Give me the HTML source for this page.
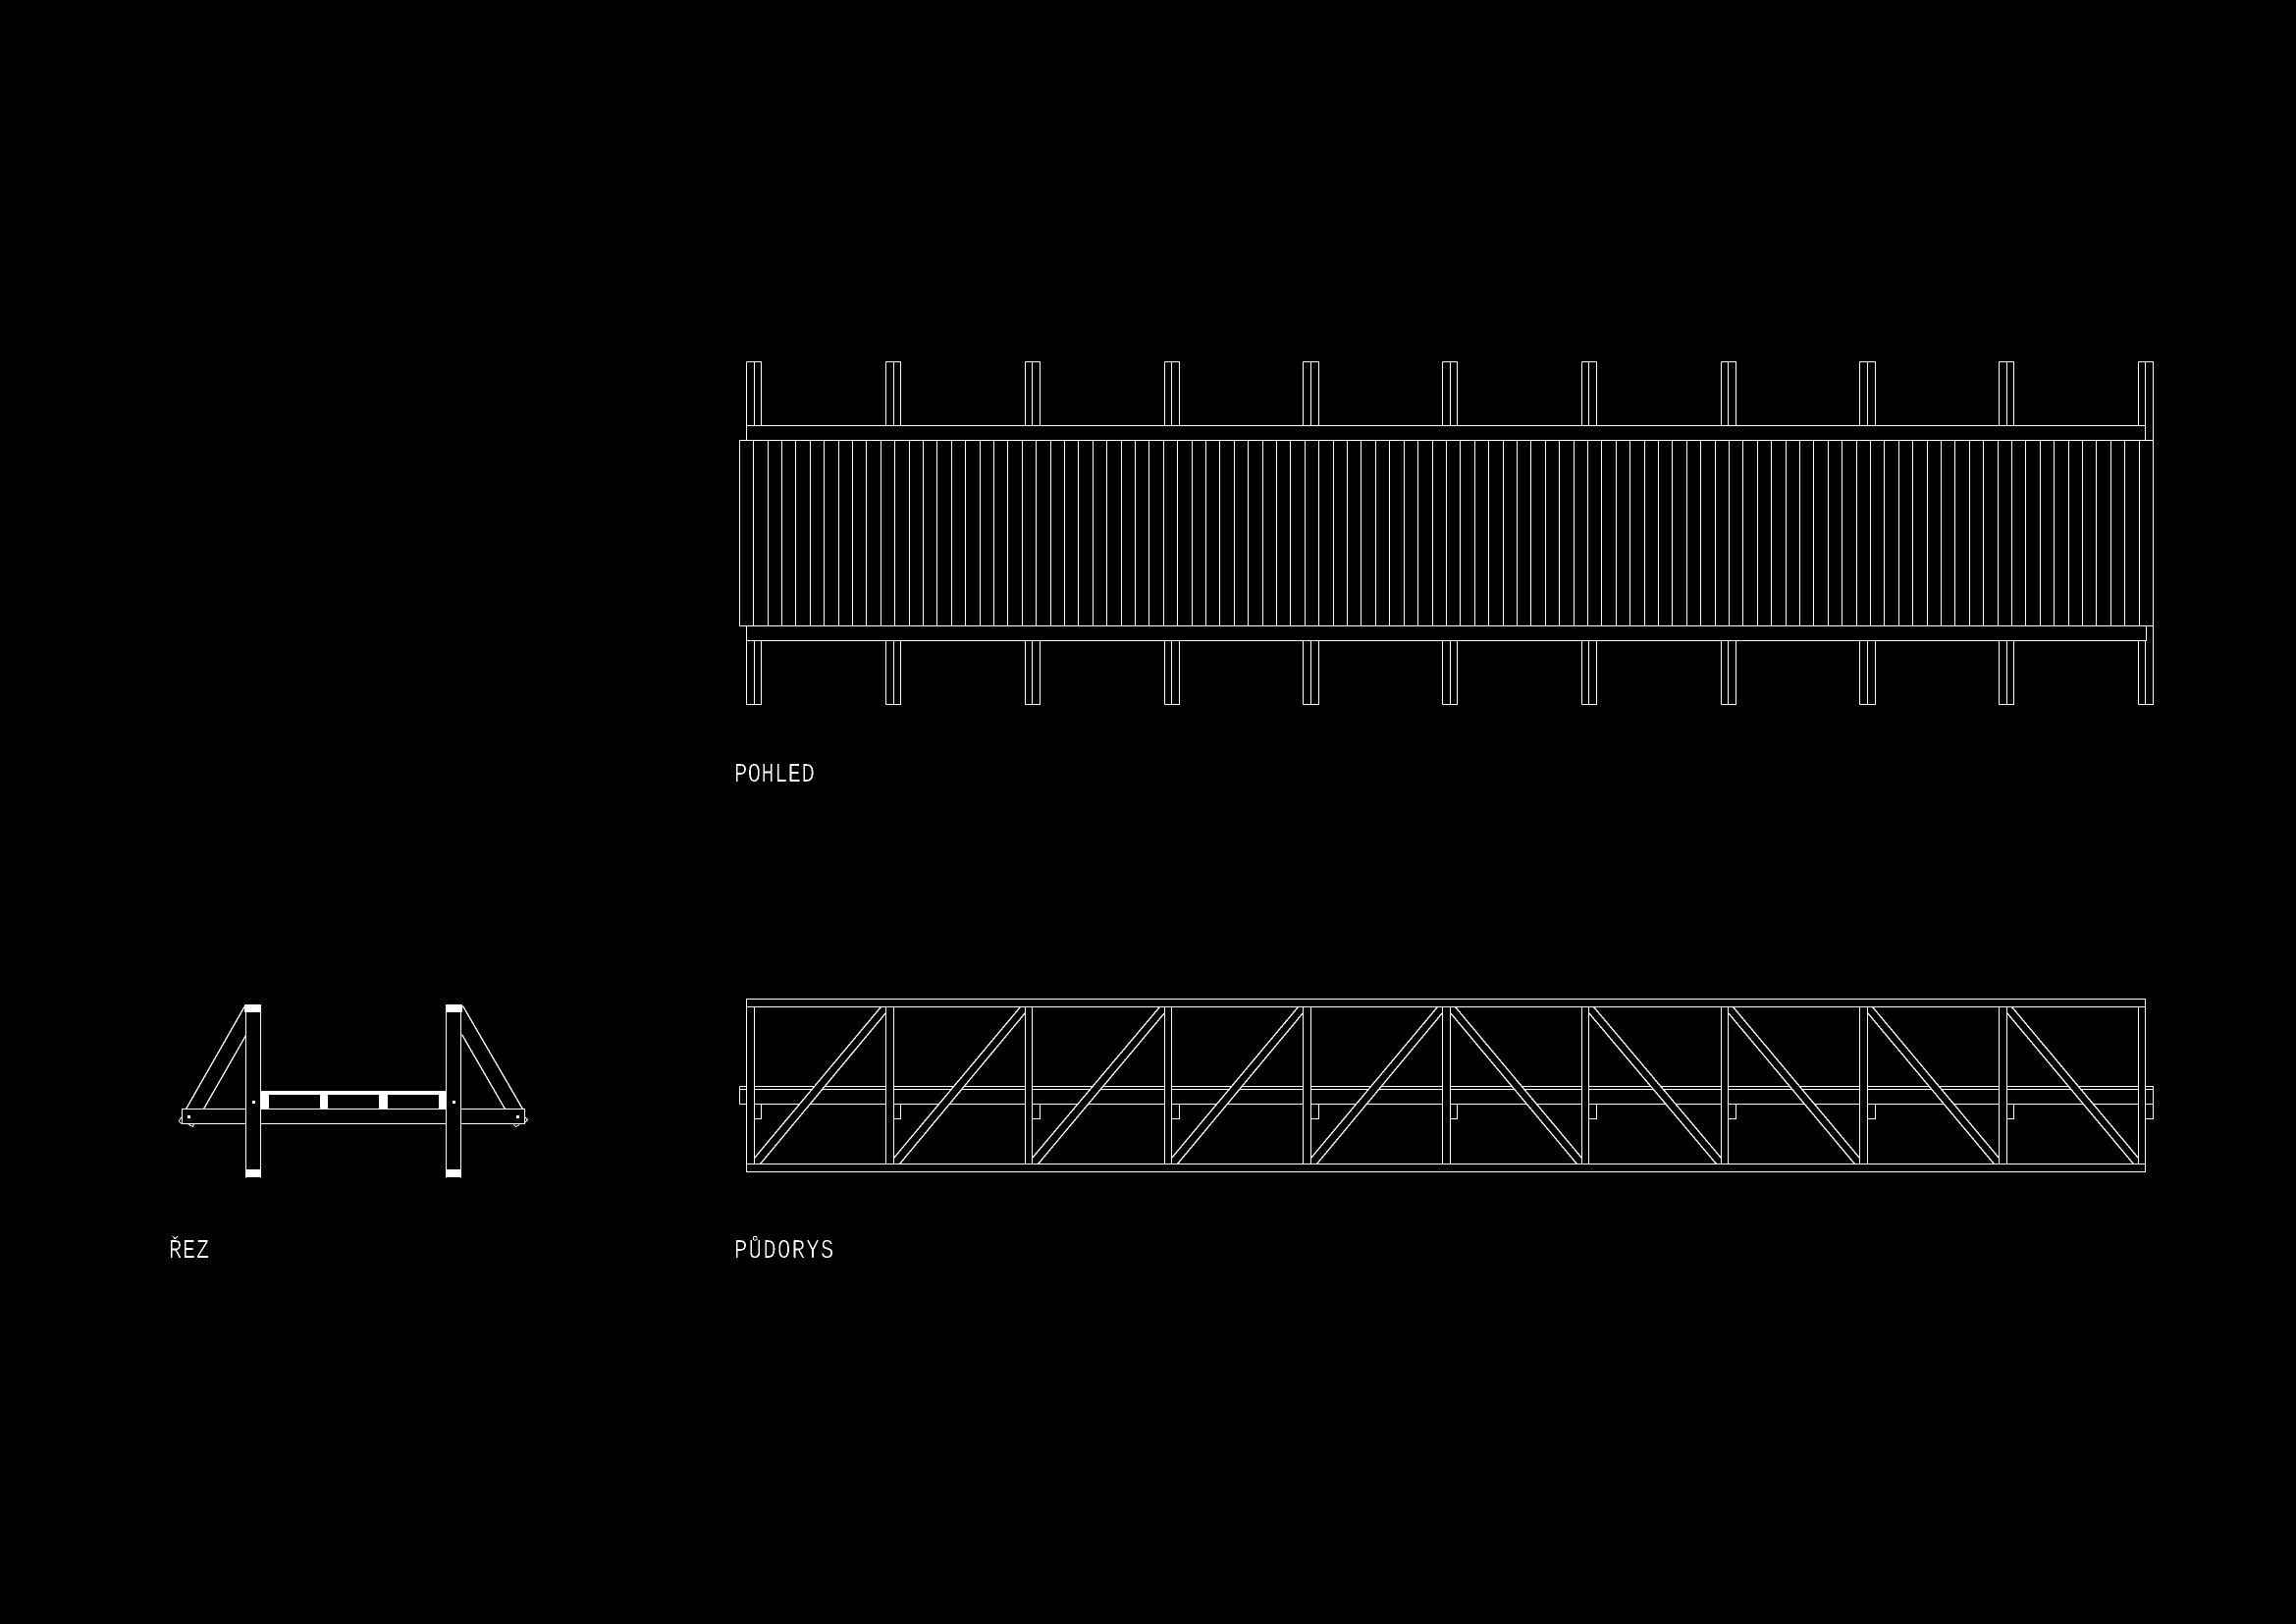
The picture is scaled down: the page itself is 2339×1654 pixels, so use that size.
<!DOCTYPE html>
<html><head><meta charset="utf-8"><title>Drawing</title>
<style>
html,body{margin:0;padding:0;background:#000;width:2339px;height:1654px;overflow:hidden}
svg{display:block;position:absolute;left:0;top:0}
text{font-family:"Liberation Mono",monospace;font-size:27px;fill:#fff;stroke:#000;stroke-width:.3px;paint-order:fill stroke}
</style></head><body>
<svg width="2339" height="1654" viewBox="0 0 2339 1654" xmlns="http://www.w3.org/2000/svg">
<defs>
<filter id="th" x="-20%" y="-40%" width="140%" height="180%" color-interpolation-filters="sRGB">
<feComponentTransfer><feFuncR type="discrete" tableValues="0 0 1"/><feFuncG type="discrete" tableValues="0 0 1"/><feFuncB type="discrete" tableValues="0 0 1"/><feFuncA type="discrete" tableValues="0 1"/></feComponentTransfer>
</filter>
</defs>
<rect width="2339" height="1654" fill="#000"/>
<g shape-rendering="crispEdges">
<!-- REZ filled parts -->
<g transform="translate(.5,.5)" fill="none" stroke="#fff" stroke-width="1">
<path d="M185 1129H534V1144H185Z"/>
<path stroke-width="1.35" d="M249 1024L189 1129M250 1054L207 1129M471 1024L532 1129M470 1053L514 1129"/>
<path d="M185 1137L183 1139L182 1141L183 1143L185 1144M191 1144L194 1146L196 1147L197 1144M534 1137L537 1140L534 1143M523 1145L525 1147L529 1145"/>
</g>
<path d="M265 1111H454V1129H265Z" fill="#fff"/>
<rect x="274" y="1115" width="52" height="14" fill="#000"/>
<rect x="334" y="1115" width="52" height="14" fill="#000"/>
<rect x="395" y="1115" width="52" height="14" fill="#000"/>
<rect x="250" y="1023" width="16" height="176" fill="#000"/>
<rect x="454" y="1023" width="16" height="176" fill="#000"/>
<g transform="translate(.5,.5)" fill="none" stroke="#fff" stroke-width="1">
<path d="M250 1023V1199M265 1023V1199M454 1023V1199M469 1023V1199"/>
</g>
<rect x="249" y="1023" width="17" height="8" fill="#fff"/>
<rect x="250" y="1191" width="16" height="8" fill="#fff"/>
<rect x="454" y="1023" width="17" height="8" fill="#fff"/>
<rect x="454" y="1191" width="16" height="8" fill="#fff"/>
<rect x="257" y="1121" width="3" height="3" fill="#fff"/>
<rect x="461" y="1121" width="3" height="3" fill="#fff"/>
<rect x="191" y="1136" width="3" height="3" fill="#fff"/>
<rect x="526" y="1136" width="3" height="3" fill="#fff"/>

<g transform="translate(.5,.5)" fill="none" stroke="#fff" stroke-width="1">
<!-- POHLED -->
<path d="M753 448H2193V637H753ZM760 433V448M760 637V652M760 433H2185V448M760 652H2186V637"/>
<path d="M767 448V637M782 448V637M796 448V637M810 448V637M825 448V637M839 448V637M854 448V637M868 448V637M882 448V637M897 448V637M911 448V637M926 448V637M940 448V637M954 448V637M969 448V637M983 448V637M998 448V637M1012 448V637M1026 448V637M1041 448V637M1055 448V637M1070 448V637M1084 448V637M1098 448V637M1113 448V637M1127 448V637M1142 448V637M1156 448V637M1170 448V637M1185 448V637M1199 448V637M1214 448V637M1228 448V637M1242 448V637M1257 448V637M1271 448V637M1286 448V637M1300 448V637M1314 448V637M1329 448V637M1343 448V637M1358 448V637M1372 448V637M1386 448V637M1401 448V637M1415 448V637M1430 448V637M1444 448V637M1459 448V637M1473 448V637M1487 448V637M1502 448V637M1516 448V637M1531 448V637M1545 448V637M1559 448V637M1574 448V637M1588 448V637M1603 448V637M1617 448V637M1631 448V637M1646 448V637M1660 448V637M1675 448V637M1689 448V637M1703 448V637M1718 448V637M1732 448V637M1747 448V637M1761 448V637M1775 448V637M1790 448V637M1804 448V637M1819 448V637M1833 448V637M1847 448V637M1862 448V637M1876 448V637M1891 448V637M1905 448V637M1919 448V637M1934 448V637M1948 448V637M1963 448V637M1977 448V637M1991 448V637M2006 448V637M2020 448V637M2035 448V637M2049 448V637M2063 448V637M2078 448V637M2092 448V637M2107 448V637M2121 448V637M2135 448V637M2150 448V637M2164 448V637M2179 448V637"/>
<path d="M760 368H775V433M760 368V433M768 368V433M902 368H917V433M902 368V433M910 368V433M1044 368H1059V433M1044 368V433M1051 368V433M1186 368H1201V433M1186 368V433M1193 368V433M1327 368H1343V433M1327 368V433M1335 368V433M1469 368H1484V433M1469 368V433M1477 368V433M1611 368H1626V433M1611 368V433M1618 368V433M1753 368H1768V433M1753 368V433M1760 368V433M1894 368H1910V433M1894 368V433M1902 368V433M2036 368H2051V433M2036 368V433M2044 368V433M2178 368H2193V448M2178 368V433M2185 368V448"/>
<path d="M760 717H775V652M760 717V652M768 717V652M902 717H917V652M902 717V652M910 717V652M1044 717H1059V652M1044 717V652M1051 717V652M1186 717H1201V652M1186 717V652M1193 717V652M1327 717H1343V652M1327 717V652M1335 717V652M1469 717H1484V652M1469 717V652M1477 717V652M1611 717H1626V652M1611 717V652M1618 717V652M1753 717H1768V652M1753 717V652M1760 717V652M1894 717H1910V652M1894 717V652M1902 717V652M2036 717H2051V652M2036 717V652M2044 717V652M2178 717H2193V637M2178 717V652M2185 717V652"/>

<!-- PUDORYS -->
<path d="M753 1106H2193V1139H2185M753 1109H2193M753 1124H2193M753 1106V1124"/>
<path d="M775 1124V1139H768M917 1124V1139H910M1059 1124V1139H1051M1201 1124V1139H1193M1343 1124V1139H1335M1484 1124V1139H1477M1626 1124V1139H1618M1768 1124V1139H1760M1910 1124V1139H1902M2051 1124V1139H2044"/>
<g fill="#000" stroke="none">
<polygon points="768,1179 897,1025 902,1031 774,1185"/>
<polygon points="910,1179 1039,1025 1044,1031 916,1185"/>
<polygon points="1051,1179 1181,1025 1186,1031 1057,1185"/>
<polygon points="1193,1179 1322,1025 1327,1031 1199,1185"/>
<polygon points="1335,1179 1464,1025 1469,1031 1341,1185"/>
<polygon points="1482,1025 1611,1179 1606,1185 1477,1031"/>
<polygon points="1623,1025 1753,1179 1748,1185 1618,1031"/>
<polygon points="1765,1025 1894,1179 1889,1185 1760,1031"/>
<polygon points="1907,1025 2036,1179 2031,1185 1902,1031"/>
<polygon points="2049,1025 2178,1179 2173,1185 2044,1031"/>
</g>
<path stroke-width="1.35" d="M768 1179L897 1025M774 1185L902 1031M910 1179L1039 1025M916 1185L1044 1031M1051 1179L1181 1025M1057 1185L1186 1031M1193 1179L1322 1025M1199 1185L1327 1031M1335 1179L1464 1025M1341 1185L1469 1031"/>
<path stroke-width="1.35" d="M1482 1025L1611 1179M1477 1031L1606 1185M1623 1025L1753 1179M1618 1031L1748 1185M1765 1025L1894 1179M1760 1031L1889 1185M1907 1025L2036 1179M1902 1031L2031 1185M2049 1025L2178 1179M2044 1031L2173 1185"/>
<g fill="#000" stroke="none">
<rect x="760" y="1025" width="8" height="160"/><rect x="902" y="1025" width="8" height="160"/><rect x="1044" y="1025" width="7" height="160"/><rect x="1186" y="1025" width="7" height="160"/><rect x="1327" y="1025" width="8" height="160"/><rect x="1469" y="1025" width="8" height="160"/><rect x="1611" y="1025" width="7" height="160"/><rect x="1753" y="1025" width="7" height="160"/><rect x="1894" y="1025" width="8" height="160"/><rect x="2036" y="1025" width="8" height="160"/><rect x="2178" y="1025" width="7" height="160"/>
</g>
<path d="M760 1017H2185V1193H760ZM760 1025H2185M760 1185H2185"/>
<path d="M768 1025V1185M902 1025V1185M910 1025V1185M1044 1025V1185M1051 1025V1185M1186 1025V1185M1193 1025V1185M1327 1025V1185M1335 1025V1185M1469 1025V1185M1477 1025V1185M1611 1025V1185M1618 1025V1185M1753 1025V1185M1760 1025V1185M1894 1025V1185M1902 1025V1185M2036 1025V1185M2044 1025V1185M2178 1025V1185"/>
</g>
</g>
<g filter="url(#th)">
<text transform="translate(748,796) scale(.82,1)" x="0 16.7 33.4 50.1 66.8 83.5">POHLED</text>
<text transform="translate(172,1281) scale(.82,1)" x="0 17 34">ŘEZ</text>
<text transform="translate(748,1281) scale(.82,1)" x="0 17.9 35.8 53.7 71.6 89.5 107.4">PŮDORYS</text>
</g>
</svg>
</body></html>
